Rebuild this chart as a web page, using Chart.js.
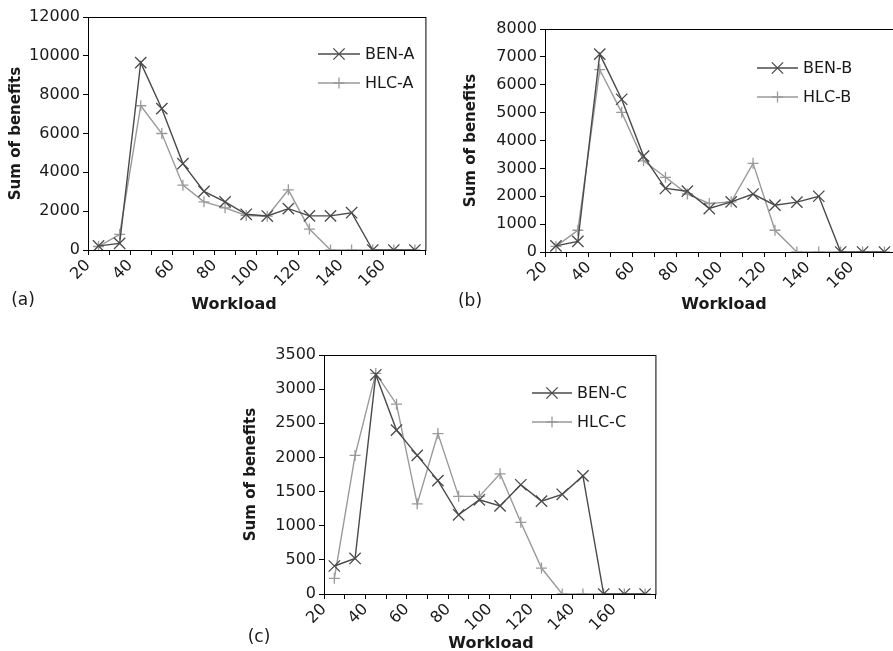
<!DOCTYPE html>
<html>
<head>
<meta charset="utf-8">
<script src="https://cdn.jsdelivr.net/npm/chart.js@4/dist/chart.umd.min.js"></script>
<style>
html, body { margin: 0; padding: 0; overflow: hidden; background: #fff; }
body { width: 893px; height: 651px; position: relative; font-family: "DejaVu Sans", sans-serif; color: #1a1a1a; }
.box { position: absolute; }
.panel { position: absolute; font-size: 17px; transform: translate(-50%, -50%); line-height: 1; }
.xtitle { position: absolute; font-size: 16px; font-weight: bold; transform: translate(-50%, -50%); line-height: 1; white-space: nowrap; }
</style>
</head>
<body>

<div class="box" style="left:0px;top:0px"><canvas id="chartA" width="440" height="320"></canvas></div>
<div class="box" style="left:450px;top:0px"><canvas id="chartB" width="460" height="320"></canvas></div>
<div class="box" style="left:230px;top:320px"><canvas id="chartC" width="440" height="331"></canvas></div>

<div class="panel" style="left:23px;top:299px">(a)</div>
<div class="panel" style="left:470px;top:300px">(b)</div>
<div class="panel" style="left:259px;top:636px">(c)</div>

<div class="xtitle" style="left:234px;top:304px">Workload</div>
<div class="xtitle" style="left:724px;top:304px">Workload</div>
<div class="xtitle" style="left:491px;top:643px">Workload</div>

<script>
// workload points (midpoints of each interval of 10)
const workload = [25, 35, 45, 55, 65, 75, 85, 95, 105, 115, 125, 135, 145, 155, 165, 175]

const benA = [210, 340, 9650, 7280, 4450, 3020, 2480, 1840, 1750, 2130, 1760, 1760, 1920, 0, 0, 0]
const hlcA = [180, 800, 7430, 6000, 3340, 2480, 2170, 1780, 1740, 3100, 1080, 0, 0, 0, 0, 0]

const benB = [220, 380, 7100, 5480, 3440, 2280, 2180, 1560, 1800, 2080, 1680, 1790, 2000, 0, 0, 0]
const hlcB = [200, 780, 6540, 5010, 3270, 2680, 2080, 1740, 1800, 3180, 780, 0, 0, 0, 0, 0]

const benC = [410, 520, 3210, 2400, 2030, 1660, 1160, 1380, 1290, 1600, 1360, 1460, 1730, 0, 0, 0]
const hlcC = [230, 2030, 3230, 2780, 1320, 2350, 1430, 1430, 1760, 1050, 380, 0, 0, 0, 0, 0]

const xTickLabels = [20, 40, 60, 80, 100, 120, 140, 160]

const tickFont = { family: "DejaVu Sans", size: 16 }
const benColor = "#4a4a4a"
const hlcColor = "#9a9a9a"

const drawMarker = function (ctx, style, r, x, y) {
     ctx.beginPath()
     if (style === "crossRot") {
          const d = r * Math.cos(Math.PI / 4)
          ctx.moveTo(x - d, y - d); ctx.lineTo(x + d, y + d)
          ctx.moveTo(x + d, y - d); ctx.lineTo(x - d, y + d)
     } else {
          ctx.moveTo(x - r, y); ctx.lineTo(x + r, y)
          ctx.moveTo(x, y - r); ctx.lineTo(x, y + r)
     }
     ctx.stroke()
}

// box round the plot area
const framePlugin = {
     id: "frame",
     afterDraw(chart) {
          const { ctx, chartArea } = chart
          ctx.save()
          ctx.strokeStyle = "#000"
          ctx.lineWidth = 1
          ctx.strokeRect(chartArea.left + 0.5, chartArea.top + 0.5, chartArea.width, chartArea.height)
          ctx.restore()
     }
}

// legend drawn inside the plot, line + marker + name
const insideLegend = {
     id: "insideLegend",
     afterDraw(chart, args, opts) {
          const ctx = chart.ctx
          chart.data.datasets.forEach((ds, i) => {
               const y = opts.y[i]
               ctx.save()
               ctx.strokeStyle = ds.borderColor
               ctx.lineWidth = ds.borderWidth
               ctx.beginPath()
               ctx.moveTo(opts.x0, y)
               ctx.lineTo(opts.x1, y)
               ctx.stroke()
               ctx.lineWidth = ds.pointBorderWidth
               drawMarker(ctx, ds.pointStyle, ds.pointRadius, (opts.x0 + opts.x1) / 2, y)
               ctx.fillStyle = "#1a1a1a"
               ctx.font = '16px "DejaVu Sans"'
               ctx.textBaseline = "middle"
               ctx.fillText(ds.label, opts.x1 + 5, y + 1)
               ctx.restore()
          })
     }
}

const makeChart = function (id, ben, hlc, names, yMax, yStep, geo) {
     const axisGrid = { display: true, drawOnChartArea: false, drawTicks: true, tickLength: 5, color: "#000" }
     return new Chart(document.getElementById(id), {
          type: "line",
          data: {
               datasets: [{
                    label: names[0],
                    data: workload.map((w, i) => ({ x: w, y: ben[i] })),
                    borderColor: benColor,
                    borderWidth: 1.4,
                    pointStyle: "crossRot",
                    pointRadius: 8,
                    pointBorderWidth: 1.3,
                    pointBorderColor: benColor,
                    tension: 0
               }, {
                    label: names[1],
                    data: workload.map((w, i) => ({ x: w, y: hlc[i] })),
                    borderColor: hlcColor,
                    borderWidth: 1.4,
                    pointStyle: "cross",
                    pointRadius: 5.5,
                    pointBorderWidth: 1.3,
                    pointBorderColor: hlcColor,
                    tension: 0
               }]
          },
          options: {
               responsive: false,
               animation: false,
               layout: { padding: { top: geo.top, right: geo.right, left: 0, bottom: 0 } },
               plugins: {
                    legend: { display: false },
                    tooltip: { enabled: false },
                    insideLegend: geo.legend
               },
               scales: {
                    x: {
                         type: "linear",
                         min: 20,
                         max: 180,
                         ticks: {
                              stepSize: 10,
                              autoSkip: false,
                              minRotation: 45,
                              maxRotation: 45,
                              padding: 1,
                              color: "#1a1a1a",
                              font: tickFont,
                              callback: v => xTickLabels.includes(v) ? String(v) : ""
                         },
                         grid: axisGrid,
                         border: { display: true, color: "#000", width: 1 },
                         afterFit: s => { s.height = geo.xh }
                    },
                    y: {
                         min: 0,
                         max: yMax,
                         ticks: { stepSize: yStep, padding: 3, color: "#1a1a1a", font: tickFont, callback: v => String(v) },
                         grid: axisGrid,
                         border: { display: true, color: "#000", width: 1 },
                         title: {
                              display: true,
                              text: "Sum of benefits",
                              color: "#1a1a1a",
                              font: { family: "DejaVu Sans", size: 15, weight: "bold" },
                              padding: { top: geo.tp, bottom: 0 }
                         },
                         afterFit: s => { s.width = geo.yw }
                    }
               }
          },
          plugins: [framePlugin, insideLegend]
     })
}

makeChart("chartA", benA, hlcA, ["BEN-A", "HLC-A"], 12000, 2000,
     { top: 17, right: 13, yw: 88, xh: 70, tp: 7, legend: { x0: 318, x1: 360, y: [54, 83] } })

makeChart("chartB", benB, hlcB, ["BEN-B", "HLC-B"], 8000, 1000,
     { top: 29, right: 7, yw: 95, xh: 68, tp: 12, legend: { x0: 307, x1: 348, y: [68, 97] } })

makeChart("chartC", benC, hlcC, ["BEN-C", "HLC-C"], 3500, 500,
     { top: 35, right: 12, yw: 94, xh: 57, tp: 12, legend: { x0: 302, x1: 342, y: [73, 102] } })
</script>
</body>
</html>
